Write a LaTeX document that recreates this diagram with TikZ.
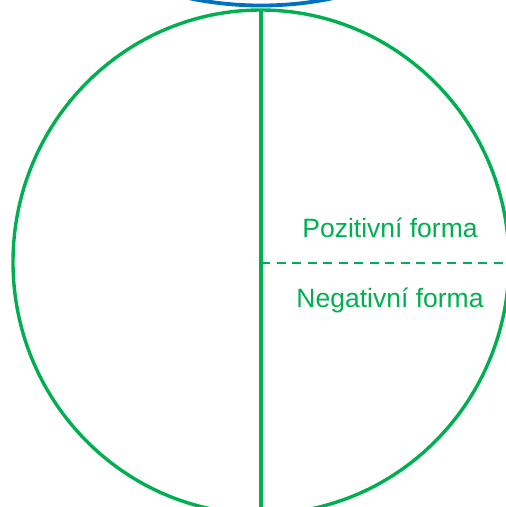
\documentclass[tikz,border=0pt]{standalone}
\usepackage{fontspec}
\setmainfont{Liberation Sans}
\usepackage{tikz}
\usetikzlibrary{positioning}
\definecolor{formgreen}{RGB}{0,176,80}
\definecolor{formblue}{RGB}{0,112,192}

\begin{document}
\begin{tikzpicture}[x=1pt,y=-1pt]
  \tikzset{
    ring/.style={draw=formgreen, line width=3.4pt},
    upper/.style={draw=formblue, line width=3.8pt},
    split/.style={formgreen, line width=3.4pt},
    half/.style={formgreen, line width=2.8pt, dash pattern=on 9pt off 6.5pt},
    lbl/.style={text=formgreen, font=\fontsize{26.5}{30}\selectfont, inner sep=0pt, anchor=base}
  }

  % frame of the picture
  \useasboundingbox (0,0) rectangle (506,507);
  \clip (0,0) rectangle (506,507);

  % centre and ends
  \coordinate (c) at (261,262);
  \coordinate (top) at (261,10);
  \coordinate (bot) at (261,514);
  \coordinate (rgt) at (509,263);

  % circles
  \draw[upper] (261,-169.5) ellipse [x radius=250, y radius=175];
  \draw[ring] (c) ellipse [x radius=248, y radius=252];

  % dividing lines
  \draw[split] (top) -- (bot);
  \draw[half] (c |- rgt) -- (rgt);

  % labels
  \node[lbl] (poz) at (390,237) {Pozitivní forma};
  \node[lbl] (neg) at (390,307) {Negativní forma};

\end{tikzpicture}
\end{document}
